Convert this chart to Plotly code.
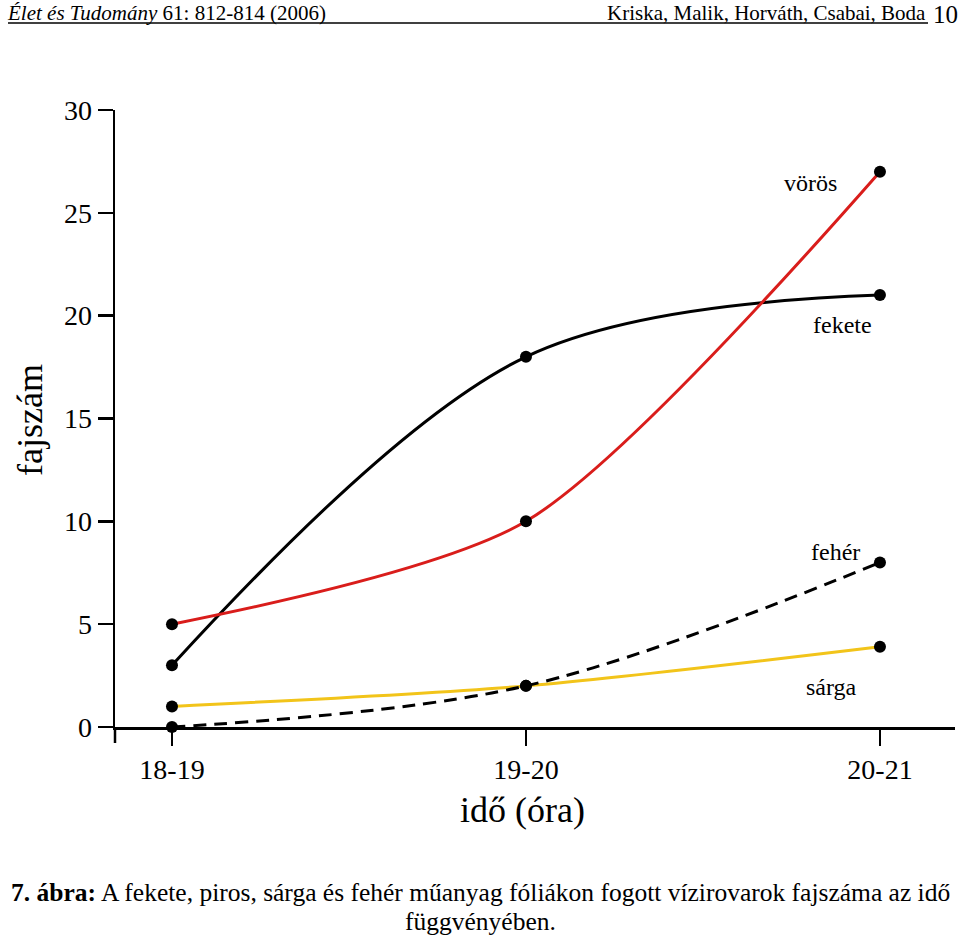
import plotly.graph_objects as go

# ---- data ----
categories = ["18-19", "19-20", "20-21"]
voros = [5, 10, 27]
fekete = [3, 18, 21]
feher = [0, 2, 8]
sarga = [1, 2, 3.9]
y_ticks = [0, 5, 10, 15, 20, 25, 30]

SERIF = "Liberation Serif"
x_idx = list(range(len(categories)))

# plot area in pixels: left 115, right 955, top 110, bottom 727
L, R, T, B = 115, 955, 110, 727
def px(x):
    return (x - L) / (R - L)
def py(y):
    return (B - y) / (B - T)

fig = go.Figure()

def add_series(vals, color, dash="solid", smoothing=1.0):
    fig.add_trace(go.Scatter(
        x=x_idx, y=vals, mode="lines+markers",
        line=dict(color=color, width=3, dash=dash, shape="spline", smoothing=smoothing),
        marker=dict(color="black", size=12),
        cliponaxis=False, hoverinfo="skip",
    ))

add_series(sarga, "#f2c41a", smoothing=0.8)
add_series(feher, "black", dash="13px,8px")
add_series(fekete, "black")
add_series(voros, "#d91d1b", smoothing=0.75)

labels = [
    ("vörös", 1.804, 26.45),
    ("fekete", 1.893, 19.55),
    ("fehér", 1.873, 8.51),
    ("sárga", 1.864, 1.94),
]
annotations = []
for txt, xx, yy in labels:
    annotations.append(dict(text=txt, x=xx, y=yy, xref="x", yref="y",
                            showarrow=False, font=dict(family=SERIF, size=24, color="black"),
                            xanchor="center", yanchor="middle"))

annotations += [
    dict(text="idő (óra)", x=px(522), y=py(810), xref="paper", yref="paper",
         showarrow=False, font=dict(family=SERIF, size=36, color="black"),
         xanchor="center", yanchor="middle"),
    dict(text="fajszám", x=px(30), y=py(420), xref="paper", yref="paper",
         showarrow=False, textangle=-90, font=dict(family=SERIF, size=36, color="black"),
         xanchor="center", yanchor="middle"),
    dict(text="<i>Élet és Tudomány</i> 61: 812-814 (2006)", x=px(5), y=py(13),
         xref="paper", yref="paper", showarrow=False,
         font=dict(family=SERIF, size=21, color="black"), xanchor="left", yanchor="middle"),
    dict(text="Kriska, Malik, Horváth, Csabai, Boda", x=px(928), y=py(13),
         xref="paper", yref="paper", showarrow=False,
         font=dict(family=SERIF, size=21, color="black"), xanchor="right", yanchor="middle"),
    dict(text="10", x=px(931), y=py(14),
         xref="paper", yref="paper", showarrow=False,
         font=dict(family=SERIF, size=25, color="black"), xanchor="left", yanchor="middle"),
    dict(text="<b>7. ábra:</b> A fekete, piros, sárga és fehér műanyag fóliákon fogott vízirovarok fajszáma az idő",
         x=px(480), y=py(892), xref="paper", yref="paper", showarrow=False,
         font=dict(family=SERIF, size=25.5, color="black"), xanchor="center", yanchor="middle"),
    dict(text="függvényében.",
         x=px(480), y=py(921), xref="paper", yref="paper", showarrow=False,
         font=dict(family=SERIF, size=25.5, color="black"), xanchor="center", yanchor="middle"),
]

shapes = [
    # header underline
    dict(type="line", xref="paper", yref="paper", x0=px(8), x1=px(928), y0=py(23), y1=py(23),
         line=dict(color="black", width=1.5)),
    # y-axis extension below the x-axis
    dict(type="line", xref="paper", yref="paper", x0=0, x1=0, y0=0, y1=py(743),
         line=dict(color="black", width=2.5)),
]

fig.update_layout(
    width=960, height=936,
    margin=dict(l=L, r=960 - R, t=T, b=936 - B),
    paper_bgcolor="white", plot_bgcolor="white",
    showlegend=False,
    annotations=annotations, shapes=shapes,
    xaxis=dict(range=[-0.161, 2.212], tickvals=x_idx, ticktext=categories,
               showgrid=False, zeroline=False, showline=True, linecolor="black", linewidth=2.5,
               ticks="outside", ticklen=16, tickwidth=2.5, tickcolor="black",
               tickfont=dict(family=SERIF, size=28, color="black")),
    yaxis=dict(range=[0, 30], tickvals=y_ticks,
               showgrid=False, zeroline=False, showline=True, linecolor="black", linewidth=2.5,
               ticks="outside", ticklen=15, tickwidth=2.5, tickcolor="black",
               tickfont=dict(family=SERIF, size=28, color="black")),
)

fig.write_html("out.html", config={"displayModeBar": False, "staticPlot": True},
               post_script="document.body.style.margin='0';document.body.style.overflow='hidden';")
